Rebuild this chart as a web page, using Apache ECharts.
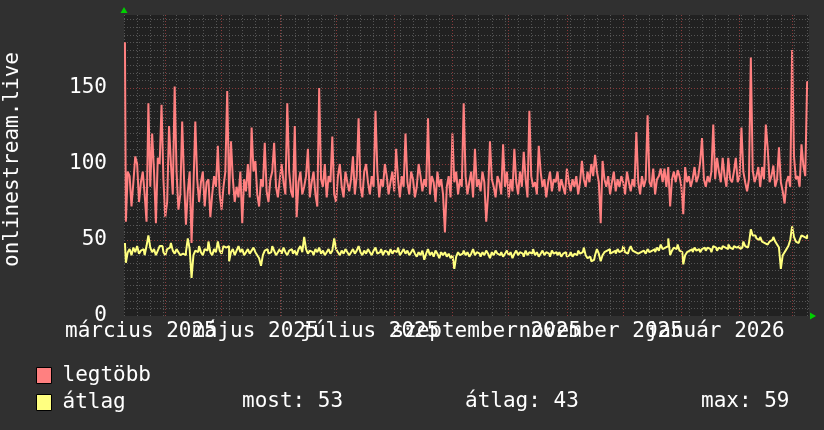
<!DOCTYPE html>
<html>
<head>
<meta charset="utf-8">
<script src="https://cdn.jsdelivr.net/npm/echarts@6/dist/echarts.min.js"></script>
<style>
  html, body { margin: 0; padding: 0; background: #303030; }
  #chart { width: 824px; height: 430px; }
</style>
</head>
<body>
<div id="chart"></div>
<script>
// napi adatok 2025-03-10-tol
const startDay = Date.UTC(2025, 2, 10)
const dayCount = 365

const monthStarts = ['2025-04-01', '2025-05-01', '2025-06-01', '2025-07-01', '2025-08-01', '2025-09-01',
  '2025-10-01', '2025-11-01', '2025-12-01', '2026-01-01', '2026-02-01', '2026-03-01']
const labelMonths = ['2025-03-01', '2025-05-01', '2025-07-01', '2025-09-01', '2025-11-01', '2026-01-01']
const labelTexts = ['március 2025', 'május 2025', 'július 2025', 'szeptember 2025', 'november 2025', 'január 2026']

const legtobb = [
  180, 62, 95, 92, 72, 88, 105, 100, 75, 88,
  95, 80, 62, 140, 85, 120, 95, 61, 104, 100,
  139, 90, 65, 75, 125, 100, 80, 151, 95, 70,
  80, 128, 90, 60, 82, 95, 48, 85, 128, 90,
  75, 88, 95, 72, 88, 90, 65, 80, 92, 85,
  112, 80, 70, 85, 95, 148, 80, 115, 90, 75,
  85, 78, 95, 61, 90, 82, 100, 78, 124, 95,
  102, 80, 72, 90, 85, 114, 82, 75, 90, 95,
  114, 85, 78, 90, 100, 88, 80, 140, 95, 82,
  78, 125, 65, 88, 95, 80, 85, 92, 110, 78,
  88, 95, 80, 72, 150, 90, 85, 100, 78, 92,
  88, 118, 80, 75, 92, 100, 85, 78, 95, 88,
  82, 90, 105, 80, 92, 130, 85, 78, 95, 100,
  88, 80, 92, 85, 135, 95, 78, 90, 85, 100,
  92, 80, 88, 95, 82, 110, 90, 78, 92, 85,
  120, 88, 80, 95, 90, 78, 85, 100, 92, 82,
  90, 85, 130, 80, 92, 88, 75, 95, 85, 90,
  80, 55, 85, 92, 78, 120, 88, 95, 80, 90,
  85, 140, 92, 80, 88, 95, 78, 110, 85, 90,
  82, 95, 88, 62, 80, 115, 90, 85, 78, 92,
  88, 80, 113, 85, 95, 78, 90, 82, 110, 88,
  80, 95, 85, 108, 90, 78, 135, 92, 85, 88,
  80, 112, 95, 85, 90, 78, 88, 95, 82, 90,
  88, 95, 82, 90, 85, 80, 97, 88, 82, 90,
  85, 92, 80, 88, 102, 90, 85, 95, 88, 100,
  92, 106, 95, 88, 61, 102, 90, 85, 92, 80,
  88, 95, 82, 90, 85, 92, 88, 80, 95, 88,
  82, 90, 85, 121, 88, 80, 92, 85, 90, 132,
  88, 85, 97, 80, 90, 92, 97, 88, 97, 85,
  98, 72, 90, 95, 88, 96, 92, 85, 67, 98,
  88, 92, 85, 90, 98, 88, 92, 101, 117, 90,
  85, 92, 88, 95, 126, 90, 104, 95, 88, 104,
  92, 85, 104, 90, 88, 95, 104, 88, 92, 124,
  95, 88, 82, 90, 170, 96, 88, 92, 98, 85,
  98, 90, 126, 110, 88, 92, 99, 85, 90, 111,
  88, 82, 74, 88, 92, 85, 175, 105, 90, 92,
  85, 113, 99, 92, 154
]

const atlag = [
  48, 35, 42, 44, 40, 45, 42, 46, 41, 43,
  44, 40, 46, 53, 45, 42, 44, 40, 43, 46,
  46, 42, 40, 44, 45, 48, 43, 41, 44, 42,
  40, 41, 40, 42, 51, 44, 25, 40, 43, 42,
  46, 42, 40, 44, 43, 49, 42, 40, 44, 42,
  49, 43, 41, 46, 45, 46, 36, 42, 44, 40,
  43, 46, 42, 44, 40, 42, 44, 41, 43, 45,
  42, 40, 38, 33, 40, 43, 44, 41, 42, 46,
  43, 40, 42, 44, 41, 45, 42, 40, 43, 44,
  41, 43, 40, 44, 46, 42, 52, 44, 41, 43,
  42, 40, 44, 42, 45, 41, 43, 40, 42, 44,
  41, 43, 51, 44, 42, 40, 43, 41, 44, 42,
  40, 42, 44, 41, 43, 46, 42, 40, 43, 41,
  44, 42, 40, 43, 45, 41, 42, 44, 40, 43,
  42, 40, 44, 41, 43, 42, 45, 40, 42, 44,
  41, 43, 40, 42, 44, 41, 39, 42, 40, 43,
  37, 41, 44, 40, 42, 39, 43, 41, 38, 42,
  40, 42, 39, 41, 38, 40, 31, 39, 42, 40,
  41, 43, 40, 42, 39, 41, 44, 40, 42, 41,
  39, 42, 40, 43, 41, 38, 42, 40, 43, 41,
  40, 42, 39, 41, 43, 40, 42, 38, 41, 43,
  40, 42, 41, 39, 43, 40, 42, 41, 44, 40,
  42, 39, 41, 43, 40, 42, 41, 39, 43, 41,
  42, 40, 42, 39, 41, 42, 39, 40, 42, 39,
  41, 40, 43, 41, 42, 45, 40, 38, 39, 36,
  37, 40, 44, 41, 36, 40, 42, 43, 44, 41,
  42, 43, 41, 44, 42, 43, 46, 42, 41, 43,
  46, 43, 42, 41, 40, 42, 43, 42, 41, 44,
  42, 43, 44, 42, 45, 43, 47, 44, 45, 46,
  51, 40, 43, 45, 44, 47, 43, 42, 34, 40,
  42, 43, 44, 42, 45, 43, 44, 42, 44, 45,
  43, 45, 44, 42, 46, 45, 43, 45, 44, 46,
  45, 44, 47, 45, 44, 46, 45, 46, 44, 45,
  49, 46, 45, 48, 57, 53, 53, 51, 50, 52,
  49, 48, 47, 46, 49, 50, 52, 49, 47, 45,
  31, 40, 42, 44, 46, 50, 59, 52, 49, 48,
  50, 53, 52, 51, 53
]

const font = "'DejaVu Sans Mono', monospace"
const fontSize = 21
const minorGrid = { color: '#555555', width: 1, type: [1, 2] }
const majorGrid = { color: '#8a3a3a', width: 1, type: [1, 2] }
const labelShift = 18 // a honap-cimkek eltolasa napban

function dayOf(s) {
  return Math.round((Date.parse(s) - startDay) / 86400000)
}

const monthDays = monthStarts.map(dayOf)
const labelDays = labelMonths.map((s) => dayOf(s) + labelShift)

const most = atlag[atlag.length - 1]
const avg = Math.round(atlag.reduce((a, b) => a + b, 0) / atlag.length)
const mx = Math.max(...atlag)

// a cimkek egymasra lognak, ezert ket tengelyre osztjuk oket (paros / paratlan)
function labelAxis(parity) {
  const vals = labelDays.filter((d, i) => i % 2 === parity)
  return {
    type: 'value',
    position: 'bottom',
    offset: 0,
    min: 0,
    max: dayCount,
    axisLine: { show: false },
    axisTick: { show: false },
    splitLine: { show: false },
    axisLabel: {
      show: true,
      customValues: vals,
      formatter: (v) => labelTexts[labelDays.indexOf(Math.round(v))],
      color: '#ffffff',
      fontFamily: font,
      fontSize: fontSize,
      margin: 5,
      hideOverlap: false,
      showMinLabel: true,
      showMaxLabel: true,
    },
  }
}

const chart = echarts.init(document.getElementById('chart'))

chart.setOption({
  backgroundColor: '#303030',
  animation: false,
  textStyle: { fontFamily: font },
  grid: {
    left: 124,
    right: 15,
    top: 15,
    bottom: 114,
    show: true,
    backgroundColor: '#212121',
    borderWidth: 0,
    outerBoundsMode: 'none',
  },
  xAxis: [
    {
      type: 'value',
      position: 'bottom',
      min: 0,
      max: dayCount,
      interval: 7,
      axisLabel: { show: false },
      axisTick: { show: false },
      axisLine: {
        show: true,
        symbol: ['none', 'triangle'],
        symbolSize: [7, 6],
        symbolOffset: [0, 4],
        lineStyle: { color: '#00d000', width: 0 },
      },
      splitLine: { show: true, showMaxLine: false, lineStyle: minorGrid },
    },
    labelAxis(0),
    labelAxis(1),
  ],
  yAxis: [
    {
      type: 'value',
      min: 0,
      max: 198,
      interval: 5,
      position: 'left',
      axisLabel: { show: false },
      axisTick: { show: false },
      axisLine: {
        show: true,
        symbol: ['none', 'triangle'],
        symbolSize: [7, 6],
        symbolOffset: [0, 5],
        lineStyle: { color: '#00d000', width: 0 },
      },
      splitLine: { show: true, showMinLine: false, showMaxLine: false, lineStyle: minorGrid },
    },
    {
      type: 'value',
      min: 0,
      max: 198,
      interval: 50,
      position: 'left',
      offset: 0,
      name: 'onlinestream.live',
      nameLocation: 'middle',
      nameGap: 101,
      nameTextStyle: { color: '#ffffff', fontFamily: font, fontSize: fontSize, padding: [0, 0, 0, 12] },
      axisLine: { show: false },
      axisTick: { show: false },
      axisLabel: {
        color: '#ffffff',
        fontFamily: font,
        fontSize: fontSize,
        margin: 17,
        showMaxLabel: false,
      },
      splitLine: { show: true, showMinLine: false, showMaxLine: false, lineStyle: majorGrid },
    },
  ],
  legend: {
    data: ['legtöbb', 'átlag'],
    orient: 'vertical',
    left: 31,
    top: 360,
    itemWidth: 15,
    itemHeight: 16,
    itemGap: 6,
    icon: 'rect',
    selectedMode: false,
    itemStyle: { borderColor: '#000000', borderWidth: 1 },
    textStyle: { color: '#ffffff', fontFamily: font, fontSize: fontSize, padding: [0, 0, 0, 6] },
  },
  graphic: [
    { type: 'text', left: 242, top: 391, style: { text: 'most: ' + most, fill: '#fff', font: fontSize + 'px ' + font } },
    { type: 'text', left: 465, top: 391, style: { text: 'átlag: ' + avg, fill: '#fff', font: fontSize + 'px ' + font } },
    { type: 'text', left: 701, top: 391, style: { text: 'max: ' + mx, fill: '#fff', font: fontSize + 'px ' + font } },
  ],
  series: [
    {
      name: 'grid',
      type: 'line',
      data: [],
      z: 1,
      silent: true,
      markLine: {
        silent: true,
        symbol: ['none', 'none'],
        label: { show: false },
        lineStyle: majorGrid,
        data: monthDays.map((d) => ({ xAxis: d })),
      },
    },
    {
      name: 'legtöbb',
      type: 'line',
      step: 'middle',
      showSymbol: false,
      z: 3,
      data: legtobb.map((v, i) => [i + 0.5, v]),
      lineStyle: { color: '#ff8080', width: 2 },
      itemStyle: { color: '#ff8080' },
    },
    {
      name: 'átlag',
      type: 'line',
      step: 'middle',
      showSymbol: false,
      z: 4,
      data: atlag.map((v, i) => [i + 0.5, v]),
      lineStyle: { color: '#ffff80', width: 2 },
      itemStyle: { color: '#ffff80' },
    },
  ],
})
</script>
</body>
</html>
